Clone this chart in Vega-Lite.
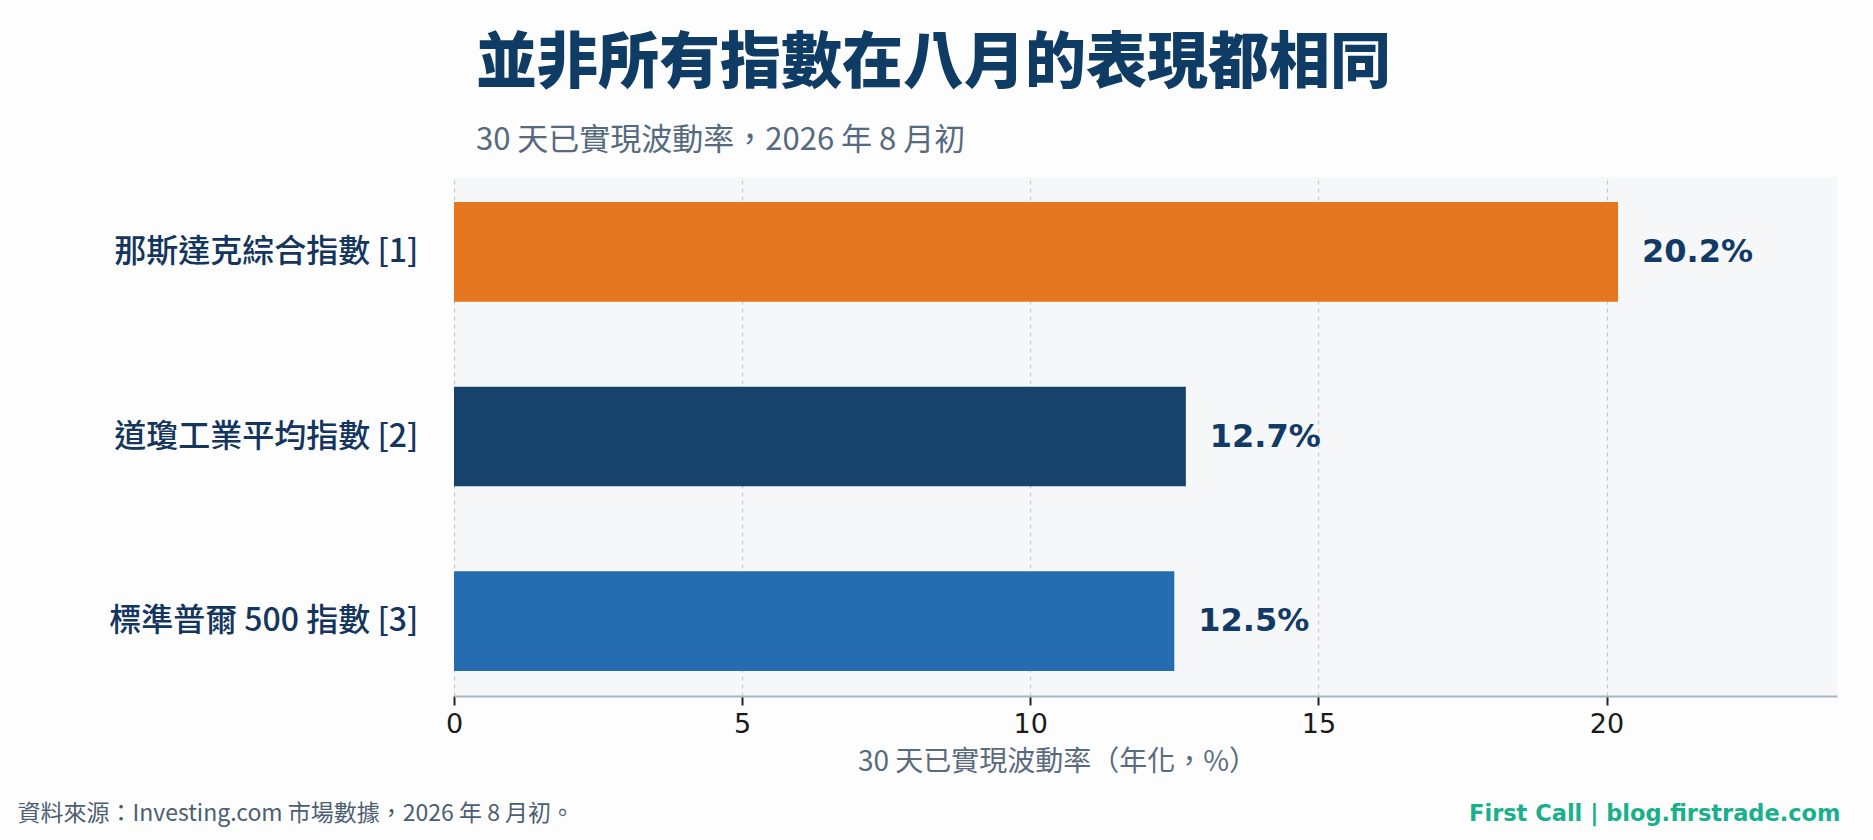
{
  "$schema": "https://vega.github.io/schema/vega-lite/v6.json",
  "width": 1383,
  "height": 519,
  "autosize": "none",
  "padding": {"left": 454, "top": 177, "right": 36, "bottom": 144},
  "background": "#fdfdfd",
  "title": {
    "text": "並非所有指數在八月的表現都相同",
    "subtitle": "30 天已實現波動率，2026 年 8 月初",
    "anchor": "start",
    "frame": "group",
    "dx": 22,
    "offset": 20,
    "font": "Noto Sans CJK TC",
    "fontSize": 61,
    "fontWeight": 900,
    "color": "#0f3c65",
    "subtitleFont": "Noto Sans CJK TC",
    "subtitleFontSize": 31,
    "subtitleColor": "#566a7f",
    "subtitlePadding": 30
  },
  "data": {
    "values": [
      {"index": "那斯達克綜合指數 [1]", "vol": 20.2, "label": "20.2%"},
      {"index": "道瓊工業平均指數 [2]", "vol": 12.7, "label": "12.7%"},
      {"index": "標準普爾 500 指數 [3]", "vol": 12.5, "label": "12.5%"}
    ]
  },
  "encoding": {
    "y": {
      "field": "index",
      "type": "nominal",
      "sort": null,
      "scale": {"paddingInner": 0.46, "paddingOuter": 0.135}
    },
    "x": {
      "field": "vol",
      "type": "quantitative",
      "scale": {"domain": [0, 24], "nice": false}
    }
  },
  "layer": [
    {
      "mark": {"type": "bar"},
      "encoding": {
        "color": {
          "field": "index",
          "type": "nominal",
          "sort": null,
          "scale": {"range": ["#e3761f", "#16426b", "#266cb0"]},
          "legend": null
        },
        "y": {
          "field": "index",
          "type": "nominal",
          "sort": null,
          "axis": {
            "title": null,
            "ticks": false,
            "domain": false,
            "labelPadding": 36,
            "labelLimit": 500,
            "labelFont": "Noto Sans CJK TC",
            "labelFontSize": 32,
            "labelFontWeight": 500,
            "labelColor": "#13355e"
          }
        },
        "x": {
          "field": "vol",
          "type": "quantitative",
          "axis": {
            "title": "30 天已實現波動率（年化，%）",
            "titleFont": "Noto Sans CJK TC",
            "titleFontSize": 28,
            "titleFontWeight": "normal",
            "titleColor": "#5b6b7e",
            "titlePadding": 11,
            "titleX": 603,
            "values": [0, 5, 10, 15, 20],
            "labelFlush": false,
            "labelFont": "DejaVu Sans",
            "labelFontSize": 27,
            "labelColor": "#1a1a1a",
            "labelPadding": 6,
            "tickColor": "#222222",
            "tickSize": 9,
            "tickWidth": 2,
            "domainColor": "#a9b4c2",
            "domainWidth": 2,
            "grid": true,
            "gridColor": "#c3c9d0",
            "gridDash": [4, 4],
            "gridWidth": 1.2
          }
        }
      }
    },
    {
      "mark": {
        "type": "text",
        "align": "left",
        "baseline": "middle",
        "dx": 24,
        "font": "DejaVu Sans",
        "fontSize": 32,
        "fontWeight": "bold",
        "color": "#123a66"
      },
      "encoding": {
        "text": {"field": "label"},
        "x": {
          "field": "vol",
          "type": "quantitative",
          "axis": {
            "orient": "top",
            "labels": false,
            "ticks": false,
            "domain": false,
            "grid": false,
            "title": "資料來源：Investing.com 市場數據，2026 年 8 月初。",
            "titleFont": "Noto Sans CJK TC",
            "titleFontSize": 23,
            "titleFontWeight": "normal",
            "titleColor": "#4b5e72",
            "titleAlign": "left",
            "titleAnchor": "start",
            "titleBaseline": "alphabetic",
            "titleX": -437,
            "titleY": 643
          }
        },
        "y": {
          "field": "index",
          "type": "nominal",
          "sort": null,
          "axis": {
            "orient": "right",
            "labels": false,
            "ticks": false,
            "domain": false,
            "grid": false,
            "title": "First Call | blog.firstrade.com",
            "titleFont": "DejaVu Sans",
            "titleFontSize": 22.5,
            "titleFontWeight": "bold",
            "titleColor": "#1ab08c",
            "titleAngle": 0,
            "titleAlign": "right",
            "titleBaseline": "alphabetic",
            "titleX": 3,
            "titleY": 643
          }
        }
      }
    }
  ],
  "resolve": {"axis": {"x": "independent", "y": "independent"}},
  "config": {
    "view": {"fill": "#f6f7f9", "stroke": null}
  }
}
